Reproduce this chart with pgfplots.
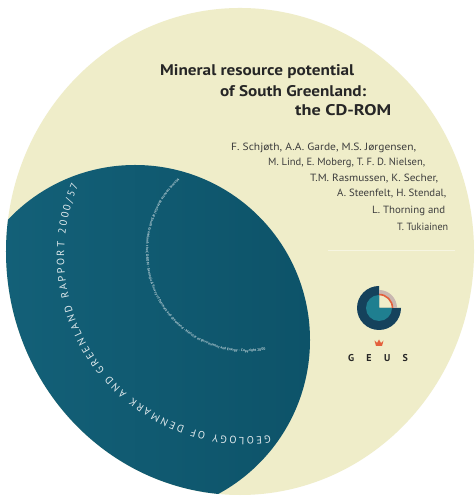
\documentclass[border=0pt]{standalone}
\usepackage{pgfplots}
\pgfplotsset{compat=1.18}
\usepackage{fontspec}
\setmainfont{PT Sans}
\usetikzlibrary{decorations.text}
\definecolor{cream}{HTML}{EFEDC9}
\definecolor{disc}{HTML}{0F5A70}
\definecolor{discL}{HTML}{14627A}
\definecolor{discD}{HTML}{0D5369}
\definecolor{navy}{HTML}{15425C}
\definecolor{logoteal}{HTML}{1F7F90}
\definecolor{logogrey}{HTML}{C9B7B0}
\definecolor{logored}{HTML}{E4603C}
\definecolor{ink}{HTML}{262626}
\definecolor{inkl}{HTML}{3D3D3D}
\newcommand{\fitw}[2]{\resizebox{#1}{\height}{#2}}
\begin{document}
\begin{tikzpicture}
\begin{axis}[
    x=1bp, y=1bp,
    xmin=0, xmax=476, ymin=0, ymax=496,
    hide axis,
    clip=false,
]
% background and disc (image y measured from the top, axis y = 496 - y)
\fill[white] (axis cs:0,0) rectangle (axis cs:476,496);
\fill[cream] (axis cs:240,244.5) ellipse[x radius=234bp, y radius=243.5bp];
\begin{scope}
  \clip (axis cs:240,244.5) ellipse[x radius=234bp, y radius=243.5bp];
  \shade[left color=discL, right color=discD] (axis cs:135,156) circle[radius=175bp];
\end{scope}

% faint rule right of the authors
\draw[white, opacity=0.45, line width=0.8bp] (axis cs:328,246) -- (axis cs:455,246);

% title
\node[anchor=base west, inner sep=0, text=ink] at (axis cs:160,420)
  {\fitw{194bp}{\fontsize{15.5}{16}\selectfont\bfseries Mineral resource potential}};
\node[anchor=base west, inner sep=0, text=ink] at (axis cs:220,399)
  {\fitw{146bp}{\fontsize{15.5}{16}\selectfont\bfseries of South Greenland:}};
\node[anchor=base west, inner sep=0, text=ink] at (axis cs:295,380)
  {\fitw{96bp}{\fontsize{15.5}{16}\selectfont\bfseries the CD-ROM}};

% authors
\node[anchor=base west, inner sep=0, text=inkl] at (axis cs:231,345)
  {\fitw{185bp}{\fontsize{10.5}{11}\selectfont F. Schjøth, A.A. Garde, M.S. Jørgensen,}};
\node[anchor=base west, inner sep=0, text=inkl] at (axis cs:268,330)
  {\fitw{157bp}{\fontsize{10.5}{11}\selectfont M. Lind, E. Moberg, T. F. D. Nielsen,}};
\node[anchor=base west, inner sep=0, text=inkl] at (axis cs:310,314)
  {\fitw{128bp}{\fontsize{10.5}{11}\selectfont T.M. Rasmussen, K. Secher,}};
\node[anchor=base west, inner sep=0, text=inkl] at (axis cs:337,299)
  {\fitw{109bp}{\fontsize{10.5}{11}\selectfont A. Steenfelt, H. Stendal,}};
\node[anchor=base west, inner sep=0, text=inkl] at (axis cs:372,282)
  {\fitw{73bp}{\fontsize{10.5}{11}\selectfont L. Thorning and}};
\node[anchor=base west, inner sep=0, text=inkl] at (axis cs:397,265)
  {\fitw{51bp}{\fontsize{10.5}{11}\selectfont T. Tukiainen}};

% GEUS logo
\fill[navy] (axis cs:379,188) -- ++(0,22bp) arc[start angle=90, end angle=360, radius=22bp] -- cycle;
\fill[logoteal] (axis cs:379,188) -- ++(0,13bp) arc[start angle=90, end angle=360, radius=13bp] -- cycle;
\fill[logogrey] (axis cs:392,188) arc[start angle=0, end angle=90, radius=13bp]
  -- ++(0,5bp) arc[start angle=90, end angle=0, radius=18bp] -- cycle;
\draw[logored, line width=1.6bp] (axis cs:392.5,188) arc[start angle=0, end angle=90, radius=13.5bp];
\fill[logored] (axis cs:376,150) -- (axis cs:382,150) -- (axis cs:383.5,155.5) -- (axis cs:381,153)
  -- (axis cs:379,156.5) -- (axis cs:377,153) -- (axis cs:374.5,155.5) -- cycle;
\node[anchor=base, inner sep=0, text=ink] at (axis cs:378,134)
  {\makebox[60bp][s]{\fontsize{10}{10}\selectfont\bfseries G\hfill E\hfill U\hfill S}};

% curved texts on the teal area
\path[decorate, decoration={text along path, text color=white!88!disc,
    text align={fit to path},
    text={|\fontsize{10.5}{10.5}\selectfont|GEOLOGY OF DENMARK AND GREENLAND RAPPORT 2000/57}}]
  (axis cs:270.3,60.8) arc[start angle=-82, end angle=-203, radius=181bp];
\path[decorate, decoration={text along path, text color=white!72!disc,
    text align={fit to path},
    text={|\fontsize{3.6}{3.6}\selectfont\bfseries|Mineral resource potential of South Greenland: the CD-ROM - Geological Survey of Denmark and Greenland - Ministry of Environment and Energy - Copyright 2000}}]
  (axis cs:177.8,317.1) arc[start angle=133, end angle=281, radius=100bp];
\end{axis}
\end{tikzpicture}
\end{document}
